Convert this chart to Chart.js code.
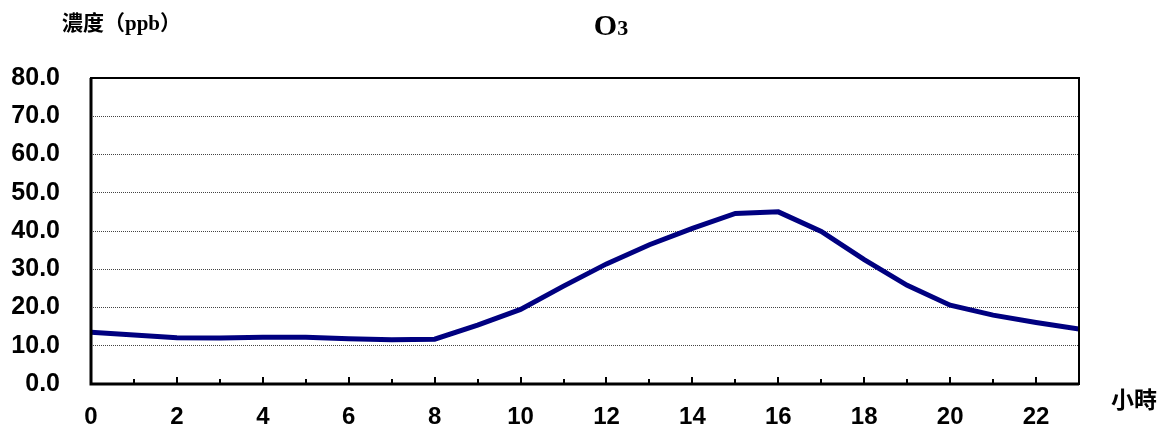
<!DOCTYPE html>
<html>
<head>
<meta charset="utf-8">
<script src="https://cdn.jsdelivr.net/npm/chart.js@4/dist/chart.umd.min.js"></script>
<style>
  body { margin: 0; background: #fff; }
  canvas { display: block; }
</style>
</head>
<body>
<canvas id="o3Chart" width="1168" height="430"></canvas>
<script>
// 小時 (0 ~ 23)
const hours = [0, 1, 2, 3, 4, 5, 6, 7, 8, 9, 10, 11, 12, 13, 14, 15, 16, 17, 18, 19, 20, 21, 22, 23];
// O3 濃度 (ppb)
const o3Values = [13.5, 12.8, 12.1, 12.0, 12.2, 12.2, 11.8, 11.6, 11.7, 15.4, 19.5, 25.6,
                  31.4, 36.4, 40.7, 44.6, 45.0, 39.9, 32.5, 25.8, 20.6, 18.0, 16.1, 14.4];
const yTicks = [0, 10, 20, 30, 40, 50, 60, 70, 80];

const titleText = "O";
const titleSub = "3";
const yTitle = "濃度（ppb）";
const xTitle = "小時";

// 外框、內側刻度、標題
const decorPlugin = {
  id: "decor",
  afterDraw(chart) {
    const ctx = chart.ctx;
    const area = chart.chartArea;
    const xs = chart.scales.x;
    ctx.save();
    ctx.strokeStyle = "#000";

    // 內側刻度
    ctx.lineWidth = 2;
    hours.forEach(h => {
      const px = Math.round(xs.getPixelForValue(h));
      const len = h % 2 === 0 ? 7 : 5;
      ctx.beginPath();
      ctx.moveTo(px, area.bottom);
      ctx.lineTo(px, area.bottom - len);
      ctx.stroke();
    });

    // 外框
    ctx.lineWidth = 2;
    ctx.strokeRect(area.left, area.top, area.right - area.left, area.bottom - area.top);
    ctx.lineWidth = 3;
    ctx.beginPath();
    ctx.moveTo(area.left, area.top);
    ctx.lineTo(area.left, area.bottom);
    ctx.lineTo(area.right, area.bottom);
    ctx.stroke();

    // 標題
    ctx.fillStyle = "#000";
    ctx.textBaseline = "alphabetic";
    const bigFont = "bold 30px 'Liberation Serif', 'DejaVu Serif', serif";
    const smallFont = "bold 22px 'Liberation Serif', 'DejaVu Serif', serif";
    ctx.font = bigFont;
    const w1 = ctx.measureText(titleText).width;
    ctx.font = smallFont;
    const w2 = ctx.measureText(titleSub).width;
    const tx = 611 - (w1 + w2) / 2;
    ctx.textAlign = "left";
    ctx.font = bigFont;
    ctx.fillText(titleText, tx, 35);
    ctx.font = smallFont;
    ctx.fillText(titleSub, tx + w1, 35);

    // 軸標題
    ctx.font = "bold 21px 'Liberation Serif', 'Noto Sans CJK TC', serif";
    ctx.textAlign = "left";
    ctx.textBaseline = "middle";
    ctx.fillText(yTitle, 62, 25);
    ctx.font = "bold 23px 'Noto Sans CJK TC', sans-serif";
    ctx.fillText(xTitle, 1111, 399);
    ctx.restore();
  }
};

const ctx = document.getElementById("o3Chart").getContext("2d");
new Chart(ctx, {
  type: "line",
  data: {
    datasets: [{
      label: "O3",
      data: hours.map((h, i) => ({ x: h, y: o3Values[i] })),
      borderColor: "#000080",
      borderWidth: 5,
      pointRadius: 0,
      tension: 0,
      fill: false
    }]
  },
  options: {
    responsive: false,
    animation: false,
    layout: { padding: { left: 0, right: 89, top: 78, bottom: 0 } },
    plugins: {
      legend: { display: false },
      tooltip: { enabled: false },
      title: { display: false }
    },
    scales: {
      x: {
        type: "linear",
        min: 0,
        max: 23,
        afterBuildTicks: s => { s.ticks = hours.map(h => ({ value: h })); },
        afterFit: s => { s.height = 44; },
        grid: { display: false, drawTicks: false },
        border: { display: false },
        ticks: {
          autoSkip: false,
          maxRotation: 0,
          padding: 19,
          color: "#000",
          font: { family: "'Liberation Sans', Arial, sans-serif", size: 24, weight: "bold" },
          callback: v => (v % 2 === 0 ? String(v) : "")
        }
      },
      y: {
        min: 0,
        max: 80,
        afterBuildTicks: s => { s.ticks = yTicks.map(v => ({ value: v })); },
        afterFit: s => { s.width = 91; },
        grid: {
          drawTicks: false,
          lineWidth: 1,
          color: c => (c.tick.value === 0 || c.tick.value === 80 ? "rgba(0,0,0,0)" : "#444")
        },
        border: { display: false, dash: [1, 1] },
        ticks: {
          padding: 31,
          color: "#000",
          font: { family: "'Liberation Sans', Arial, sans-serif", size: 25, weight: "bold" },
          callback: v => v.toFixed(1)
        }
      }
    }
  },
  plugins: [decorPlugin]
});
</script>
</body>
</html>
